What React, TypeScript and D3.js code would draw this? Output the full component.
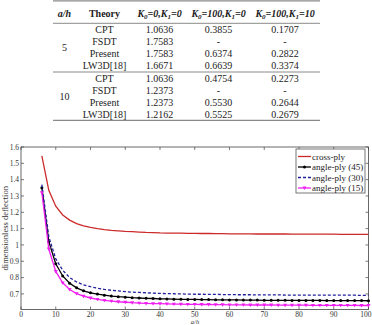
import * as d3 from "d3";

// a/h sample points (every 2)
const aOverH = [
  6, 8, 10, 12, 14, 16, 18, 20, 22, 24, 26, 28, 30, 32, 34, 36, 38, 40, 42, 44,
  46, 48, 50, 52, 54, 56, 58, 60, 62, 64, 66, 68, 70, 72, 74, 76, 78, 80, 82,
  84, 86, 88, 90, 92, 94, 96, 98, 100,
];

const crossPly = [
  1.546, 1.335, 1.237, 1.184, 1.152, 1.131, 1.117, 1.107, 1.1, 1.094, 1.089,
  1.086, 1.083, 1.081, 1.079, 1.077, 1.076, 1.074, 1.073, 1.073, 1.072, 1.071,
  1.071, 1.07, 1.07, 1.069, 1.069, 1.068, 1.068, 1.068, 1.068, 1.067, 1.067,
  1.067, 1.067, 1.067, 1.066, 1.066, 1.066, 1.066, 1.066, 1.066, 1.066, 1.065,
  1.065, 1.065, 1.065, 1.065,
];

const anglePly45 = [
  1.35, 1.02, 0.885, 0.81, 0.765, 0.737, 0.719, 0.707, 0.699, 0.692, 0.687,
  0.683, 0.68, 0.677, 0.675, 0.673, 0.672, 0.67, 0.669, 0.668, 0.667, 0.666,
  0.666, 0.665, 0.665, 0.664, 0.664, 0.663, 0.663, 0.662, 0.662, 0.662, 0.661,
  0.661, 0.661, 0.661, 0.66, 0.66, 0.66, 0.66, 0.66, 0.659, 0.659, 0.659,
  0.659, 0.659, 0.659, 0.658,
];

const anglePly30 = [
  1.37, 1.05, 0.915, 0.845, 0.8, 0.773, 0.756, 0.744, 0.735, 0.728, 0.722,
  0.718, 0.714, 0.711, 0.709, 0.707, 0.705, 0.703, 0.702, 0.701, 0.7, 0.699,
  0.698, 0.698, 0.697, 0.697, 0.696, 0.696, 0.695, 0.695, 0.695, 0.694, 0.694,
  0.694, 0.694, 0.693, 0.693, 0.693, 0.693, 0.693, 0.692, 0.692, 0.692, 0.692,
  0.692, 0.692, 0.691, 0.691,
];

const anglePly15 = [
  1.32, 0.975, 0.838, 0.768, 0.727, 0.702, 0.686, 0.675, 0.667, 0.661, 0.656,
  0.652, 0.649, 0.646, 0.644, 0.642, 0.641, 0.64, 0.639, 0.638, 0.637, 0.636,
  0.636, 0.635, 0.635, 0.634, 0.634, 0.633, 0.633, 0.633, 0.632, 0.632, 0.632,
  0.632, 0.631, 0.631, 0.631, 0.631, 0.631, 0.63, 0.63, 0.63, 0.63, 0.63, 0.63,
  0.63, 0.629, 0.629,
];

const xTicks = [0, 10, 20, 30, 40, 50, 60, 70, 80, 90, 100];
const yTicks = [0.7, 0.8, 0.9, 1, 1.1, 1.2, 1.3, 1.4, 1.5, 1.6];

// table
const groups = ["5", "10"];
const theories = ["CPT", "FSDT", "Present", "LW3D[18]"];
const colK0K1 = ["1.0636", "1.7583", "1.7583", "1.6671", "1.0636", "1.2373", "1.2373", "1.2162"];
const colK100K0 = ["0.3855", "-", "0.6374", "0.6639", "0.4754", "-", "0.5530", "0.5525"];
const colK100K10 = ["0.1707", "-", "0.2822", "0.3374", "0.2273", "-", "0.2644", "0.2679"];

const SERIF = "'Liberation Serif', 'Times New Roman', serif";

const series = [
  { name: "cross-ply", values: crossPly, color: "#cc2a2a", dash: "", marker: "none" },
  { name: "angle-ply (45)", values: anglePly45, color: "#000000", dash: "", marker: "circle" },
  { name: "angle-ply (30)", values: anglePly30, color: "#1f1f9c", dash: "3,2", marker: "none" },
  { name: "angle-ply (15)", values: anglePly15, color: "#f01ef0", dash: "", marker: "triangle" },
];

const Marker = ({ type, x, y, color }: { type: string; x: number; y: number; color: string }) => {
  if (type === "circle") return <circle cx={x} cy={y} r={1.5} fill={color} />;
  if (type === "triangle")
    return (
      <path
        d={`M${x - 2},${y - 1.4}L${x + 2},${y - 1.4}L${x},${y + 2}Z`}
        fill={color}
      />
    );
  return null;
};

const Kheader = ({ x, y, k0, k1 }: { x: number; y: number; k0: string; k1: string }) => (
  <text x={x} y={y} textAnchor="middle" fontSize={10} fontWeight="bold" fontStyle="italic">
    K<tspan fontSize={7} dy={2}>0</tspan>
    <tspan dy={-2}>={k0},K</tspan>
    <tspan fontSize={7} dy={2}>1</tspan>
    <tspan dy={-2}>={k1}</tspan>
  </text>
);

export default function App() {
  const width = 372;
  const height = 325;
  const plot = { left: 21, right: 368.5, top: 147, bottom: 309.5 };

  const x = d3.scaleLinear().domain([0, 100]).range([plot.left, plot.right]);
  const y = d3.scaleLinear().domain([0.6045, 1.6]).range([plot.bottom, plot.top]);

  const line = d3
    .line<number>()
    .x((_, i) => x(aOverH[i]))
    .y((d) => y(d));

  const rowY = (i: number) => 29.5 + i * 12 + (i >= 4 ? 0.5 : 0);
  const colX = [64.5, 104.5, 159.5, 218.5, 285];
  const tableLine = "#8a8a8a";

  const legendX = 296;
  const legendY = 149;
  const legendRow = 10.5;

  return (
    <svg
      width={width}
      height={height}
      style={{ position: "absolute", left: 0, top: 0, background: "#fff" }}
      fontFamily={SERIF}
    >
      {/* table */}
      <g fill="#222">
        <line x1={53} x2={320} y1={0.8} y2={0.8} stroke={tableLine} strokeWidth={1.2} />
        <line x1={53} x2={320} y1={23.3} y2={23.3} stroke={tableLine} strokeWidth={1} />
        <line x1={53} x2={320} y1={72} y2={72} stroke={tableLine} strokeWidth={1} />
        <line x1={53} x2={320} y1={120.3} y2={120.3} stroke={tableLine} strokeWidth={1.2} />
        <text x={colX[0]} y={16.5} textAnchor="middle" fontSize={10} fontWeight="bold" fontStyle="italic">
          a/h
        </text>
        <text x={colX[1]} y={16.5} textAnchor="middle" fontSize={10} fontWeight="bold">
          Theory
        </text>
        <Kheader x={colX[2]} y={16.5} k0="0" k1="0" />
        <Kheader x={colX[3]} y={16.5} k0="100" k1="0" />
        <Kheader x={colX[4]} y={16.5} k0="100" k1="10" />
        {groups.map((g, gi) => (
          <text key={g} x={colX[0]} y={(rowY(gi * 4 + 1) + rowY(gi * 4 + 2)) / 2 + 3.5} textAnchor="middle" fontSize={10}>
            {g}
          </text>
        ))}
        {colK0K1.map((_, i) => (
          <g key={i} fontSize={10} textAnchor="middle">
            <text x={colX[1]} y={rowY(i) + 3.5}>{theories[i % 4]}</text>
            <text x={colX[2]} y={rowY(i) + 3.5}>{colK0K1[i]}</text>
            <text x={colX[3]} y={rowY(i) + 3.5}>{colK100K0[i]}</text>
            <text x={colX[4]} y={rowY(i) + 3.5}>{colK100K10[i]}</text>
          </g>
        ))}
      </g>

      {/* axes frame */}
      <rect
        x={plot.left}
        y={plot.top}
        width={plot.right - plot.left}
        height={plot.bottom - plot.top}
        fill="none"
        stroke="#444"
        strokeWidth={0.8}
      />
      {xTicks.map((t, i) => {
        const last = i === xTicks.length - 1;
        return (
          <g key={`x${t}`}>
            <line x1={x(t)} x2={x(t)} y1={plot.bottom} y2={plot.bottom - 3} stroke="#444" strokeWidth={0.7} />
            <line x1={x(t)} x2={x(t)} y1={plot.top} y2={plot.top + 3} stroke="#444" strokeWidth={0.7} />
            <text
              x={last ? width - 0.5 : x(t)}
              y={316.5}
              textAnchor={last ? "end" : "middle"}
              fontSize={7.5}
              fill="#333"
            >
              {t}
            </text>
          </g>
        );
      })}
      {yTicks.map((t) => (
        <g key={`y${t}`}>
          <line x1={plot.left} x2={plot.left + 3} y1={y(t)} y2={y(t)} stroke="#444" strokeWidth={0.7} />
          <line x1={plot.right} x2={plot.right - 3} y1={y(t)} y2={y(t)} stroke="#444" strokeWidth={0.7} />
          <text x={plot.left - 2} y={y(t) + 2.6} textAnchor="end" fontSize={7.5} fill="#333">
            {d3.format("~g")(t)}
          </text>
        </g>
      ))}
      <text x={195} y={324} textAnchor="middle" fontSize={6.5} fontStyle="italic" fill="#333">
        a/h
      </text>
      <text
        transform={`translate(7.5, ${(plot.top + plot.bottom) / 2}) rotate(-90)`}
        textAnchor="middle"
        fontSize={8.5}
        fill="#333"
      >
        dimensionless deflection
      </text>

      {/* curves */}
      {series.map((s) => (
        <g key={s.name}>
          <path
            d={line(s.values) ?? ""}
            fill="none"
            stroke={s.color}
            strokeWidth={1.3}
            strokeDasharray={s.dash}
          />
          {s.marker !== "none" &&
            s.values.map((v, i) => (
              <Marker key={i} type={s.marker} x={x(aOverH[i])} y={y(v)} color={s.color} />
            ))}
        </g>
      ))}

      {/* legend */}
      <rect x={legendX} y={legendY} width={69} height={44} fill="#fff" stroke="#555" strokeWidth={0.8} />
      {series.map((s, i) => {
        const ly = legendY + 7.5 + i * legendRow;
        return (
          <g key={`l${s.name}`}>
            <line x1={legendX + 2} x2={legendX + 15} y1={ly} y2={ly} stroke={s.color} strokeWidth={1.3} strokeDasharray={s.dash} />
            <Marker type={s.marker} x={legendX + 8.5} y={ly} color={s.color} />
            <text x={legendX + 16} y={ly + 3} fontSize={9} fill="#222">
              {s.name}
            </text>
          </g>
        );
      })}
    </svg>
  );
}
